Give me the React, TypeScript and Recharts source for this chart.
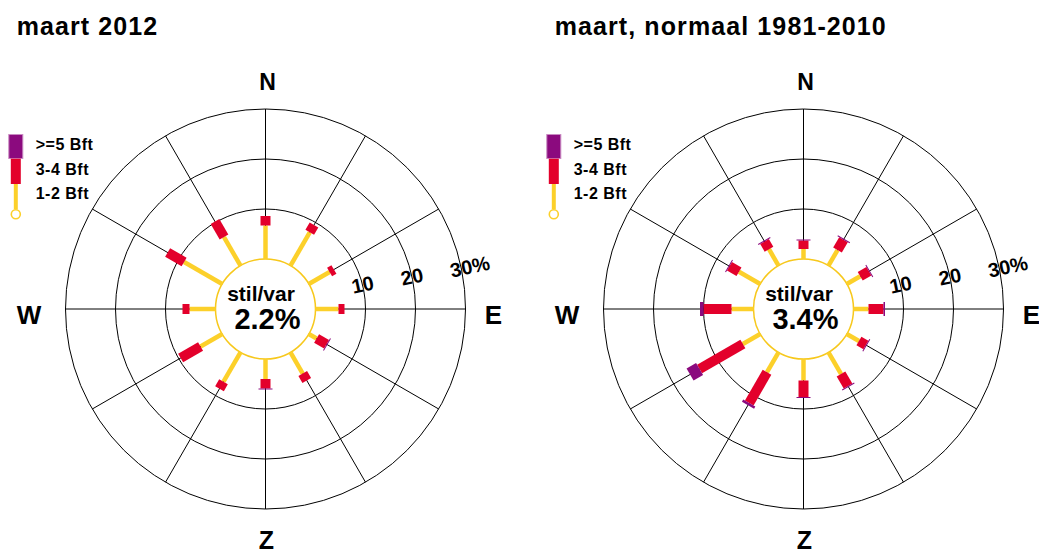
import React from 'react';
import { RadialBarChart, RadialBar, PolarAngleAxis, PolarRadiusAxis, PolarGrid } from 'recharts';

// Wind directions, clockwise from north (every 30 degrees)
const directions = ['N', 'NNO', 'ONO', 'O', 'OZO', 'ZZO', 'Z', 'ZZW', 'WZW', 'W', 'WNW', 'NNW'];

// maart 2012 (percent per direction)
const m2012Bft12 = [6.7, 7.7, 4.8, 4.6, 1.8, 4.9, 4.0, 6.8, 5.0, 5.2, 8.8, 6.6];
const m2012Bft34 = [1.9, 1.7, 1.0, 1.2, 2.3, 1.6, 1.9, 1.6, 4.6, 1.4, 3.8, 3.6];
const m2012Bft5 = [0, 0, 0, 0, 0.2, 0, 0.2, 0, 0, 0, 0, 0];
const m2012Calm = '2.2%';

// maart, normaal 1981-2010
const normBft12 = [2.0, 3.6, 3.1, 3.0, 2.8, 5.0, 4.3, 4.6, 4.0, 4.4, 4.9, 3.8];
const normBft34 = [1.7, 2.4, 2.0, 3.0, 1.6, 2.8, 3.3, 7.1, 10.0, 5.6, 2.2, 1.8];
const normBft5 = [0.2, 0.2, 0.2, 0.3, 0.2, 0.2, 0.2, 0.5, 2.2, 0.7, 0.2, 0.2];
const normCalm = '3.4%';

const radiusTicks = [10, 20, 30];
const compass = ['N', 'E', 'Z', 'W'];
const legendLabels = ['>=5 Bft', '3-4 Bft', '1-2 Bft'];

const YELLOW = '#FCD02A';
const CIRCLE = '#F7C81C';
const RED = '#E3002B';
const PURPLE = '#8B0A7E';
const FONT = '"Liberation Sans", Arial, Helvetica, sans-serif';

const CX = 265.5;
const CY = 309;
const INNER = 50;
const OUTER = 200;
const OFFSET = 538;

const buildRows = (a: number[], b: number[], c: number[]) =>
  directions.map((dir, i) => ({ dir, b12: a[i], b34: b[i], b5: c[i] }));

const makeStick = (color: string, width: number) => (props: any) => {
  const { cx, cy, innerRadius, outerRadius, startAngle, endAngle } = props;
  if (!(outerRadius > innerRadius)) return <g />;
  const mid = (startAngle + endAngle) / 2;
  const rad = (-mid * Math.PI) / 180;
  const ux = Math.cos(rad);
  const uy = Math.sin(rad);
  const px = -uy;
  const py = ux;
  const h = width / 2;
  const p = (r: number, s: number) => `${cx + r * ux + s * h * px},${cy + r * uy + s * h * py}`;
  return (
    <polygon
      points={`${p(innerRadius, -1)} ${p(outerRadius, -1)} ${p(outerRadius, 1)} ${p(innerRadius, 1)}`}
      fill={color}
    />
  );
};

const RadiusTick = (props: any) => {
  const { x, y, payload } = props;
  const v = payload.value;
  const label = v === 30 ? '30%' : String(v);
  const tx = x - 11;
  const ty = y + 1;
  return (
    <text
      x={tx}
      y={ty}
      transform={`rotate(-12 ${tx} ${ty})`}
      fontSize={20}
      fontWeight="bold"
      fontFamily={FONT}
      textAnchor="start"
      fill="#000"
    >
      {label}
    </text>
  );
};

const spokeAngles = directions.map((_, i) => 90 - 30 * i);

function Rose({ rows, left, width }: { rows: any[]; left: number; width: number }) {
  return (
    <div style={{ position: 'absolute', left, top: 0 }}>
      <RadialBarChart
        width={width}
        height={554}
        data={rows}
        cx={CX}
        cy={CY}
        innerRadius={INNER}
        outerRadius={OUTER}
        startAngle={75}
        endAngle={-285}
        layout="centric"
        margin={{ top: 0, right: 0, bottom: 0, left: 0 }}
      >
        <PolarGrid gridType="circle" polarAngles={spokeAngles} stroke="#000" strokeWidth={1} strokeOpacity={1} />
        <PolarGrid gridType="circle" polarAngles={[]} polarRadius={[INNER]} radialLines={false} stroke={CIRCLE} strokeWidth={1.5} strokeOpacity={1} />
        <PolarAngleAxis type="category" dataKey="dir" tick={false} axisLine={false} tickLine={false} />
        <PolarRadiusAxis
          type="number"
          domain={[0, 30]}
          ticks={radiusTicks}
          angle={9.3}
          axisLine={false}
          tickLine={false}
          tick={<RadiusTick />}
        />
        <RadialBar dataKey="b12" stackId="s" isAnimationActive={false} shape={makeStick(YELLOW, 4.5)} />
        <RadialBar dataKey="b34" stackId="s" isAnimationActive={false} shape={makeStick(RED, 10)} />
        <RadialBar dataKey="b5" stackId="s" isAnimationActive={false} shape={makeStick(PURPLE, 14)} />
      </RadialBarChart>
    </div>
  );
}

function Overlay({ dx, title, calm }: { dx: number; title: string; calm: string }) {
  const bold = { fontFamily: FONT, fontWeight: 'bold' as const, fill: '#000' };
  return (
    <g transform={`translate(${dx},0)`}>
      <text x={16.7} y={35} fontSize={25} letterSpacing={1.1} {...bold}>
        {title}
      </text>
      <text x={CX + 2} y={90} fontSize={23} textAnchor="middle" {...bold}>{compass[0]}</text>
      <text x={493.4} y={324} fontSize={26} textAnchor="middle" {...bold}>{compass[1]}</text>
      <text x={CX + 1} y={549} fontSize={25} textAnchor="middle" {...bold}>{compass[2]}</text>
      <text x={29} y={324} fontSize={26} textAnchor="middle" {...bold}>{compass[3]}</text>
      <text x={CX - 4.5} y={301} fontSize={21} textAnchor="middle" {...bold}>stil/var</text>
      <text x={CX + 2} y={328.5} fontSize={29} textAnchor="middle" {...bold}>{calm}</text>
      {/* legend */}
      <rect x={8.8} y={134.5} width={14} height={24} fill={PURPLE} stroke="#C98AC2" strokeWidth={1} />
      <rect x={10.8} y={158.7} width={10} height={25.3} fill={RED} />
      <line x1={15.8} y1={184} x2={15.8} y2={209.5} stroke={YELLOW} strokeWidth={4} />
      <circle cx={15.8} cy={214.3} r={4.5} fill="#fff" stroke={YELLOW} strokeWidth={1.6} />
      <text x={35.7} y={150} fontSize={16} letterSpacing={0.5} {...bold}>{legendLabels[0]}</text>
      <text x={35.7} y={174.5} fontSize={16} letterSpacing={0.5} {...bold}>{legendLabels[1]}</text>
      <text x={35.7} y={198.5} fontSize={16} letterSpacing={0.5} {...bold}>{legendLabels[2]}</text>
    </g>
  );
}

export default function App() {
  const rowsA = buildRows(m2012Bft12, m2012Bft34, m2012Bft5);
  const rowsB = buildRows(normBft12, normBft34, normBft5);
  return (
    <div
      style={{
        position: 'absolute',
        left: 0,
        top: 0,
        width: 1039,
        height: 554,
        overflow: 'hidden',
        background: '#fff',
      }}
    >
      <Rose rows={rowsA} left={0} width={520} />
      <Rose rows={rowsB} left={OFFSET} width={501} />
      <svg
        width={1039}
        height={554}
        style={{ position: 'absolute', left: 0, top: 0, pointerEvents: 'none' }}
      >
        <Overlay dx={0} title="maart 2012" calm={m2012Calm} />
        <Overlay dx={OFFSET} title="maart, normaal 1981-2010" calm={normCalm} />
      </svg>
    </div>
  );
}
